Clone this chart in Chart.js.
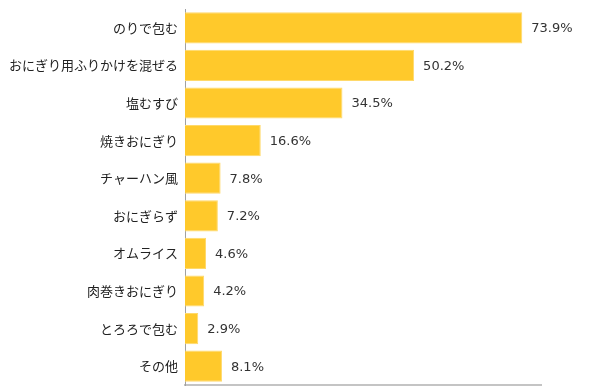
<!DOCTYPE html>
<html>
<head>
<meta charset="utf-8">
<script src="https://cdn.jsdelivr.net/npm/chart.js@4"></script>
<style>
  html, body { margin: 0; padding: 0; background: #fff; }
  #wrap { width: 600px; height: 392px; }
</style>
</head>
<body>
<div id="wrap"><canvas id="chart"></canvas></div>
<script>
// categories and values
const categories = ['のりで包む', 'おにぎり用ふりかけを混ぜる', '塩むすび', '焼きおにぎり', 'チャーハン風',
  'おにぎらず', 'オムライス', '肉巻きおにぎり', 'とろろで包む', 'その他']
const values = [73.9, 50.2, 34.5, 16.6, 7.8, 7.2, 4.6, 4.2, 2.9, 8.1]

const FONT = '"Noto Sans CJK JP", "Noto Sans", sans-serif'

// percent labels next to each bar
const valueLabels = {
  id: 'valueLabels',
  afterDatasetsDraw(chart) {
    const ctx = chart.ctx
    const meta = chart.getDatasetMeta(0)
    ctx.save()
    ctx.font = '13px "DejaVu Sans", sans-serif'
    ctx.fillStyle = '#333'
    ctx.textBaseline = 'middle'
    meta.data.forEach((bar, i) => {
      ctx.fillText(values[i].toFixed(1) + '%', bar.x + 9, bar.y + 1)
    })
    ctx.restore()
  }
}

var ctx = document.getElementById('chart').getContext('2d')
var chart = new Chart(ctx, {
  type: 'bar',
  plugins: [valueLabels],
  data: {
    labels: categories,
    datasets: [{
      data: values,
      backgroundColor: '#FFC92B',
      borderColor: '#FFD96A',
      borderWidth: 1,
      categoryPercentage: 0.83,
      barPercentage: 1.0
    }]
  },
  options: {
    indexAxis: 'y',
    responsive: true,
    maintainAspectRatio: false,
    animation: false,
    layout: {
      padding: { top: 9, bottom: 7, right: 59, left: 0 }
    },
    plugins: {
      legend: { display: false },
      tooltip: { enabled: false }
    },
    scales: {
      x: {
        min: 0,
        max: 78,
        grid: { display: false, drawTicks: false },
        border: { display: true, color: '#c4c4c4', width: 2 },
        ticks: { display: false },
        afterFit(scale) {
          scale.height = 0
          scale.paddingLeft = 0
          scale.paddingRight = 0
        }
      },
      y: {
        grid: { display: false, drawTicks: false },
        border: { display: true, color: '#a0a0a0', width: 1 },
        ticks: {
          color: '#222',
          padding: 7,
          font: { size: 13, family: FONT }
        },
        afterFit(scale) {
          scale.width = 185
          scale.paddingTop = 0
          scale.paddingBottom = 0
        }
      }
    }
  }
})
</script>
</body>
</html>
